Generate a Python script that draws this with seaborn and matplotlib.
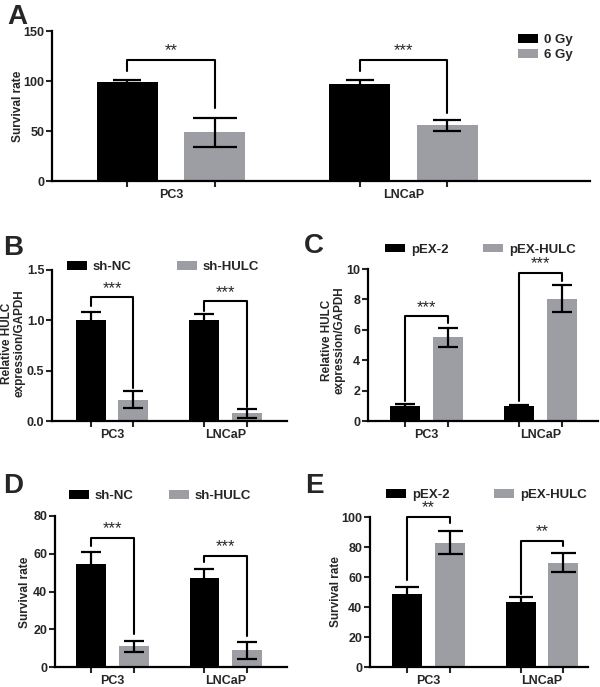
import numpy as np
import pandas as pd
import matplotlib
matplotlib.use("Agg")
import matplotlib.pyplot as plt
import seaborn as sns

sns.set_theme(style="ticks")
plt.rcParams['font.family'] = ['Liberation Sans', 'DejaVu Sans']
plt.rcParams['font.weight'] = 'bold'
plt.rcParams['axes.labelweight'] = 'bold'

# ---------------- data ----------------
groups = ["PC3", "LNCaP"]

a_levels = ["0 Gy", "6 Gy"]
a_ctrl = [99.5, 97.0]
a_ctrl_sd = [1.5, 4.5]
a_trt = [49.0, 56.0]
a_trt_sd = [14.5, 5.5]
a_ticks = [0, 50, 100, 150]
a_br_top = [121, 121]
a_br_left = [110, 110]
a_br_right = [73, 68]
a_stars = ["**", "***"]

b_levels = ["sh-NC", "sh-HULC"]
b_ctrl = [1.0, 1.0]
b_ctrl_sd = [0.085, 0.06]
b_trt = [0.21, 0.075]
b_trt_sd = [0.085, 0.045]
b_ticks = [0.0, 0.5, 1.0, 1.5]
b_br_top = [1.23, 1.19]
b_br_left = [1.14, 1.09]
b_br_right = [0.33, 0.14]
b_stars = ["***", "***"]

c_levels = ["pEX-2", "pEX-HULC"]
c_ctrl = [1.0, 1.0]
c_ctrl_sd = [0.1, 0.05]
c_trt = [5.5, 8.05]
c_trt_sd = [0.62, 0.9]
c_ticks = [0, 2, 4, 6, 8, 10]
c_br_top = [6.9, 9.75]
c_br_left = [1.3, 1.3]
c_br_right = [6.45, 9.2]
c_stars = ["***", "***"]

d_levels = ["sh-NC", "sh-HULC"]
d_ctrl = [54.5, 47.0]
d_ctrl_sd = [6.5, 5.0]
d_trt = [11.0, 9.0]
d_trt_sd = [3.0, 4.5]
d_ticks = [0, 20, 40, 60, 80]
d_br_top = [68.6, 59.0]
d_br_left = [64.0, 55.5]
d_br_right = [17.5, 16.5]
d_stars = ["***", "***"]

e_levels = ["pEX-2", "pEX-HULC"]
e_ctrl = [48.5, 43.5]
e_ctrl_sd = [5.0, 3.5]
e_trt = [83.0, 69.5]
e_trt_sd = [7.5, 6.3]
e_ticks = [0, 20, 40, 60, 80, 100]
e_br_top = [100.0, 84.0]
e_br_left = [58.0, 49.0]
e_br_right = [96.0, 80.5]
e_stars = ["**", "**"]

BLACK = "#000000"
GRAY = "#9d9ea3"
W, H = 600, 687

fig = plt.figure(figsize=(6.0, 6.87), dpi=100)


def fax(l, r, t, b):
    return fig.add_axes([l / W, 1 - b / H, (r - l) / W, (b - t) / H])


def panel(ax, levels, ctrl, ctrl_sd, trt, trt_sd, ticks, xlim, ylabel,
          label_xy, label_size, br_top, br_left, br_right, stars, caps,
          ytickfmt):
    df = pd.DataFrame({
        "group": groups * 2,
        "cond": [levels[0]] * len(groups) + [levels[1]] * len(groups),
        "value": list(ctrl) + list(trt),
    })
    sns.barplot(data=df, x="group", y="value", hue="cond",
                palette=[BLACK, GRAY], width=0.75, gap=0.3, errorbar=None,
                saturation=1, ax=ax, linewidth=0)
    centers = []
    for h, (cont, sd, m) in enumerate(zip(ax.containers, [ctrl_sd, trt_sd],
                                          [ctrl, trt])):
        xs = [p.get_x() + p.get_width() / 2 for p in cont]
        centers.append(xs)
        for i in range(len(xs)):
            ax.errorbar([xs[i]], [m[i]], yerr=[sd[i]], fmt="none",
                        ecolor="black", elinewidth=1.6, capsize=caps[h][i],
                        capthick=1.6, zorder=5)
    for i in range(len(groups)):
        x0, x1 = centers[0][i], centers[1][i]
        ax.plot([x0, x0, x1, x1], [br_left[i], br_top[i], br_top[i], br_right[i]],
                color="black", lw=1.5, clip_on=False, zorder=6)
        ax.annotate(stars[i], xy=((x0 + x1) / 2, br_top[i]), xytext=(0, 1),
                    textcoords="offset points", ha="center", va="bottom",
                    fontsize=12, fontweight="normal", annotation_clip=False)
    ax.set_xlim(*xlim)
    ax.set_ylim(ticks[0], ticks[-1])
    ax.set_yticks(ticks)
    ax.set_yticklabels([ytickfmt.format(t) for t in ticks], fontsize=9,
                       fontweight="bold")
    ax.set_xticks(range(len(groups)))
    ax.set_xticklabels(groups, fontsize=9, fontweight="bold")
    ax.set_xticks(centers[0] + centers[1], minor=True)
    ax.tick_params(axis="x", which="major", length=0, pad=6)
    ax.tick_params(axis="x", which="minor", length=4, width=1.5, direction="out")
    ax.tick_params(axis="y", length=4, width=1.5, direction="out", pad=1.5)
    ax.set_xlabel("")
    ax.set_ylabel(ylabel, fontsize=label_size, fontweight="bold",
                  linespacing=1.1)
    ax.yaxis.set_label_coords(label_xy[0] / W, 1 - label_xy[1] / H,
                              transform=fig.transFigure)
    for s in ["top", "right"]:
        ax.spines[s].set_visible(False)
    for s in ["left", "bottom"]:
        ax.spines[s].set_linewidth(1.6)
        ax.spines[s].set_color("black")
    ax.set_facecolor("white")


def legend(ax, x, y, ncol, colsp, loc="center left"):
    sns.move_legend(ax, loc, bbox_to_anchor=(x / W, 1 - y / H),
                    bbox_transform=fig.transFigure, ncol=ncol, frameon=False,
                    title=None, fontsize=9.5, handlelength=1.5,
                    handleheight=0.6, handletextpad=0.45, labelspacing=0.25,
                    columnspacing=colsp, borderpad=0, borderaxespad=0)


axA = fax(52, 590, 31, 181)
panel(axA, a_levels, a_ctrl, a_ctrl_sd, a_trt, a_trt_sd, a_ticks,
      (-0.512, 1.802), "Survival rate", (24, 106), 8.6, a_br_top, a_br_left,
      a_br_right, a_stars, [[10, 10], [15.5, 10]], "{:d}")
legend(axA, 518, 34, 1, 2.0, loc="upper left")

axB = fax(52, 287, 270, 421)
panel(axB, b_levels, b_ctrl, b_ctrl_sd, b_trt, b_trt_sd, b_ticks,
      (-0.529, 1.542), "Relative HULC\nexpression/GAPDH", (26, 343), 8.5,
      b_br_top, b_br_left, b_br_right, b_stars, [[7, 7], [7, 7]], "{:.1f}")
legend(axB, 67, 267, 2, 3.45)

axC = fax(368, 598, 269, 421)
panel(axC, c_levels, c_ctrl, c_ctrl_sd, c_trt, c_trt_sd, c_ticks,
      (-0.513, 1.504), "Relative HULC\nexpression/GAPDH", (346, 340), 8.5,
      c_br_top, c_br_left, c_br_right, c_stars, [[7.3, 7.3], [7.3, 7.3]],
      "{:d}")
legend(axC, 385, 249.5, 2, 2.65)

axD = fax(55, 287, 516, 667)
panel(axD, d_levels, d_ctrl, d_ctrl_sd, d_trt, d_trt_sd, d_ticks,
      (-0.509, 1.544), "Survival rate", (31, 592), 8.6, d_br_top, d_br_left,
      d_br_right, d_stars, [[7.5, 7.5], [7, 7]], "{:d}")
legend(axD, 69, 496, 2, 2.7)

axE = fax(370, 588, 517, 667)
panel(axE, e_levels, e_ctrl, e_ctrl_sd, e_trt, e_trt_sd, e_ticks,
      (-0.515, 1.405), "Survival rate", (342, 592), 8.5, e_br_top, e_br_left,
      e_br_right, e_stars, [[8.5, 8.5], [9, 9]], "{:d}")
legend(axE, 386, 495, 2, 3.4)

for lab, x, y in [("A", 7, 4), ("B", 3, 235), ("C", 304, 233),
                  ("D", 3, 473), ("E", 305, 473)]:
    fig.text(x / W, 1 - y / H, lab, fontsize=20, fontweight="bold",
             ha="left", va="top")

fig.savefig("out.png", dpi=100, facecolor="white")
